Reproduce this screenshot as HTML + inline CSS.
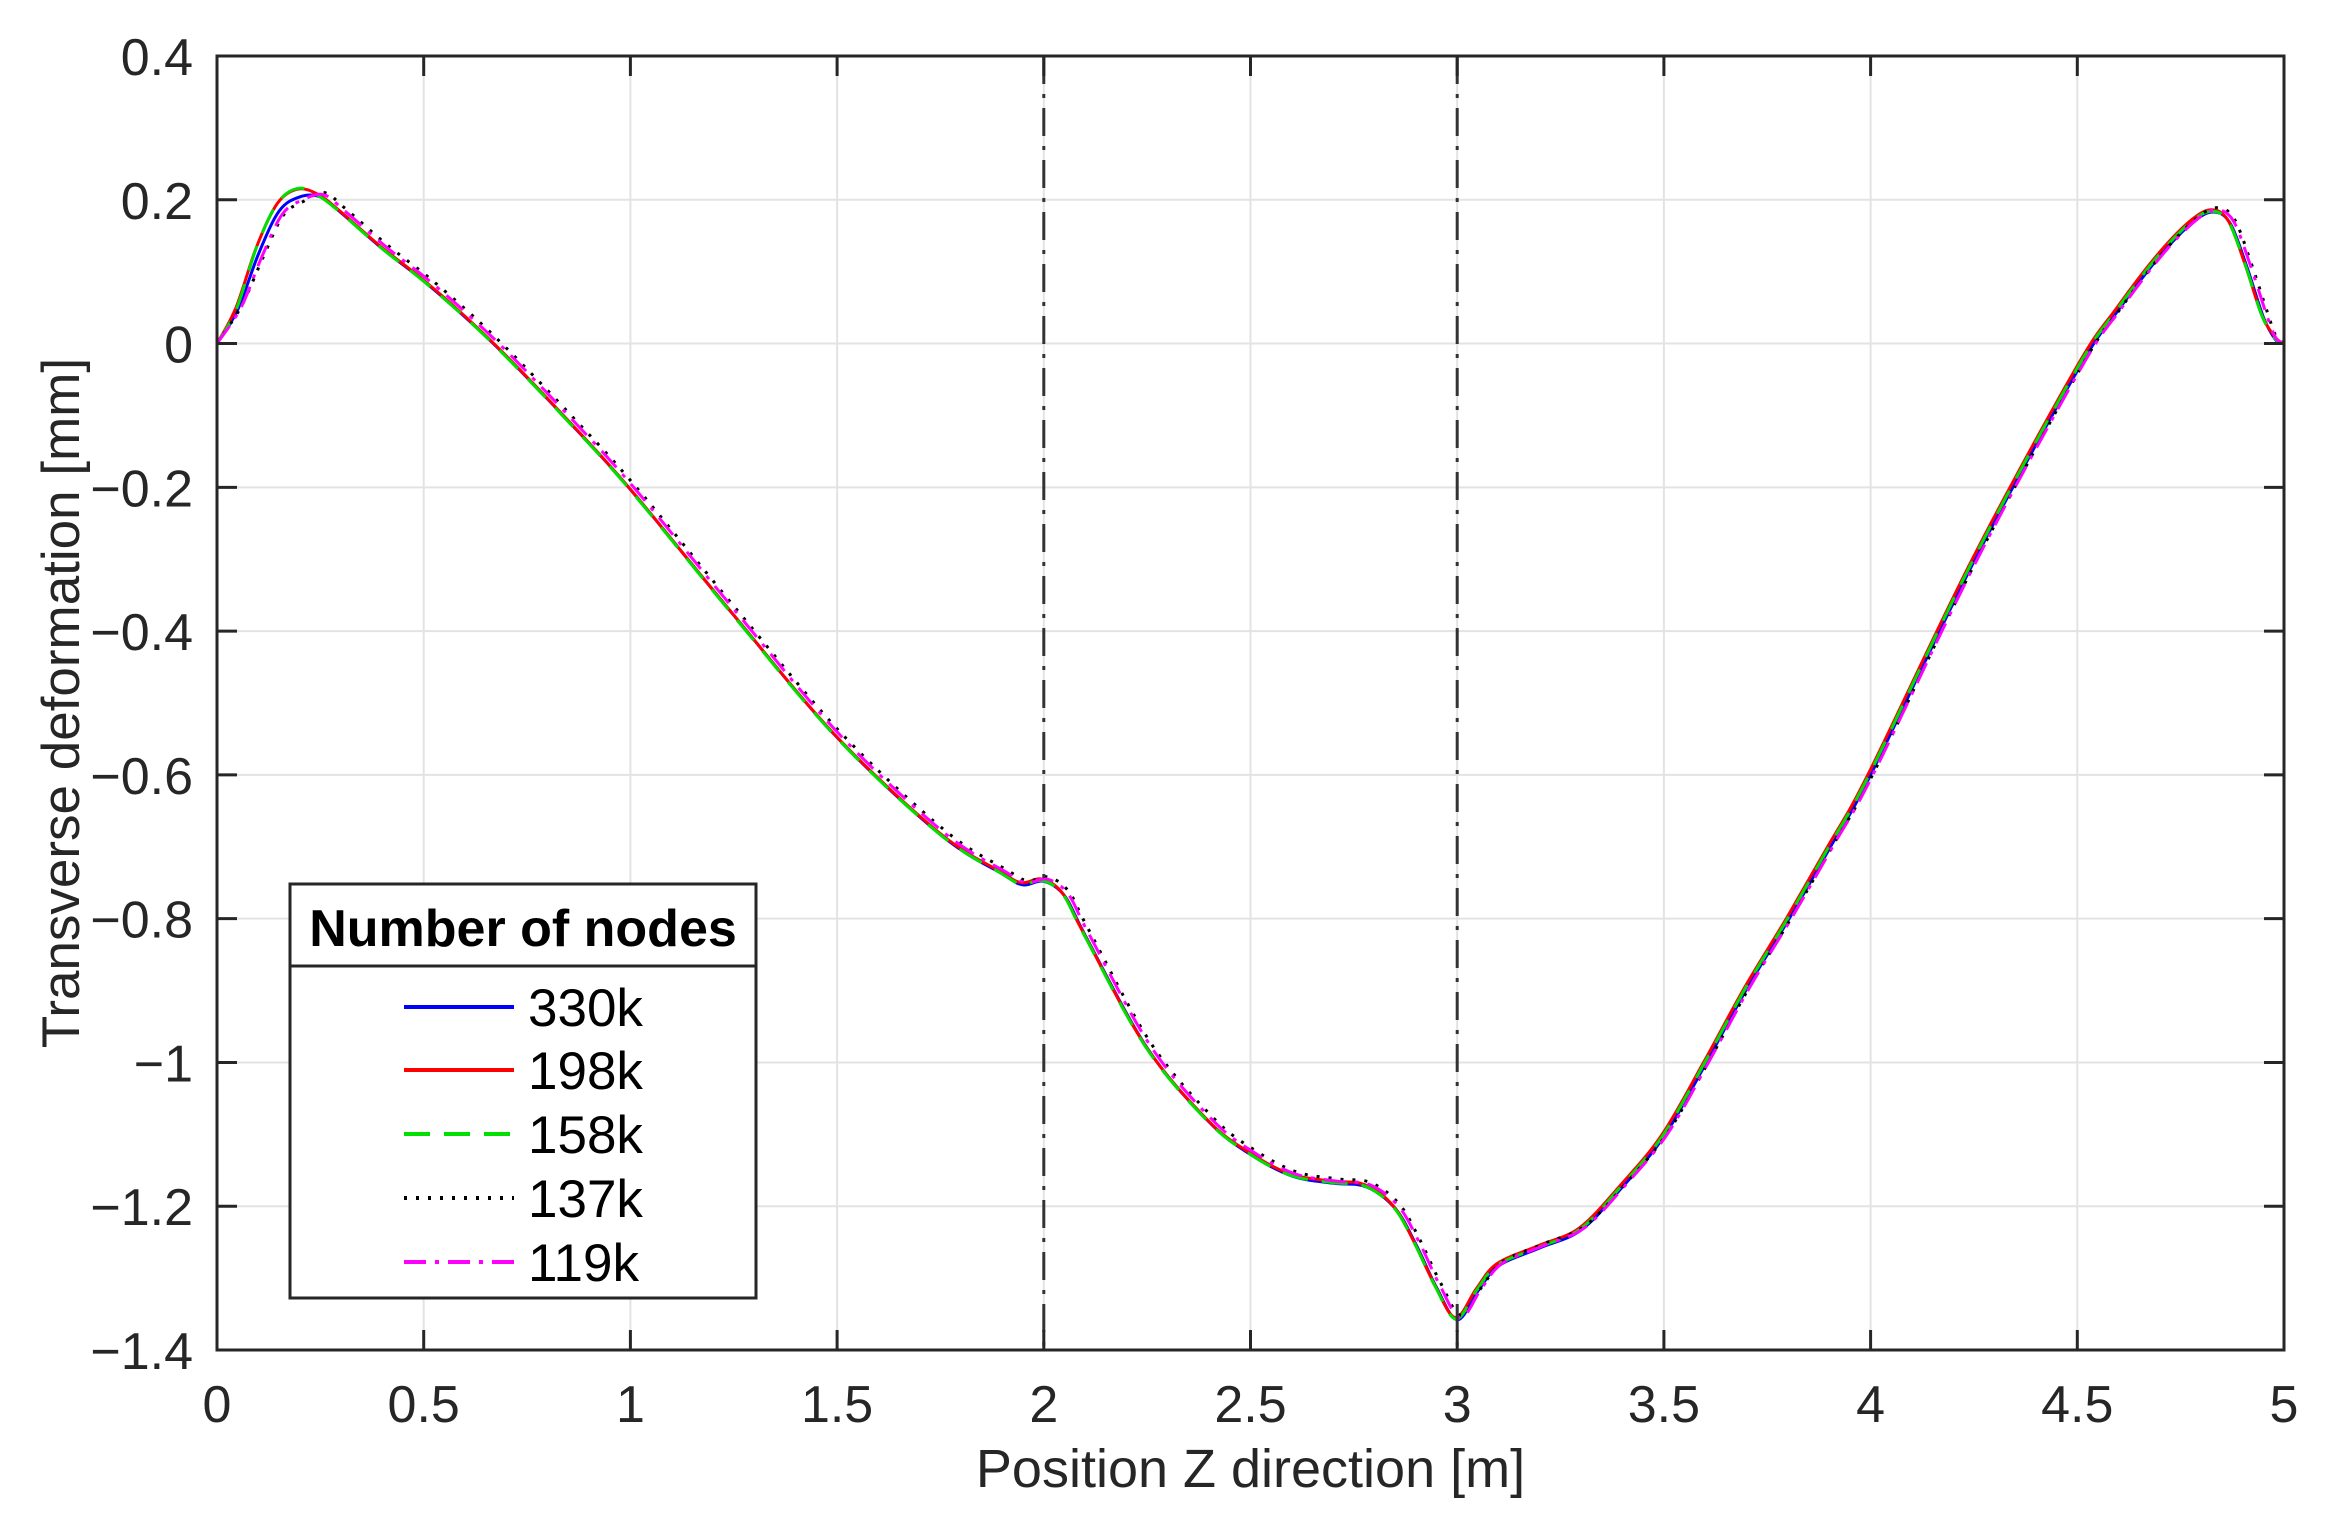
<!DOCTYPE html>
<html><head><meta charset="utf-8"><style>
html,body{margin:0;padding:0;background:#fff;}
svg{display:block;}
text{font-family:"Liberation Sans",Arial,sans-serif;fill:#262626;}
</style></head><body>
<svg id="s" width="2334" height="1518" viewBox="0 0 2334 1518" xmlns="http://www.w3.org/2000/svg">
<rect x="0" y="0" width="2334" height="1518" fill="#fff"/>
<g id="grid" stroke="#e3e3e3" stroke-width="2"></g>
<g id="series" fill="none" stroke-width="3"></g>
<g id="axes"></g>
</svg>
<script>
const L=217,R=2284,T=56,B=1350;
const X=v=>L+(R-L)*v/5, Y=v=>T+(0.4-v)*(B-T)/1.8;
const ns="http://www.w3.org/2000/svg";
function el(p,tag,a,txt){const e=document.createElementNS(ns,tag);for(const k in a)e.setAttribute(k,a[k]);if(txt!=null)e.textContent=txt;p.appendChild(e);return e;}
const s=document.getElementById('s'),g=document.getElementById('grid'),ax=document.getElementById('axes'),se=document.getElementById('series');
for(let i=1;i<10;i++){const x=X(i*0.5);el(g,'line',{x1:x,y1:T,x2:x,y2:B});}
for(let i=1;i<9;i++){const y=Y(0.4-i*0.2);el(g,'line',{x1:L,y1:y,x2:R,y2:y});}
[2,3].forEach(v=>el(ax,'line',{x1:X(v),y1:T,x2:X(v),y2:B,stroke:'#333','stroke-width':3,'stroke-dasharray':'28 10 4 10'}));
const base=[[0,0],[0.05,0.05],[0.1,0.135],[0.15,0.195],[0.2,0.215],[0.25,0.207],[0.3,0.185],[0.4,0.135],[0.5,0.09],[0.6,0.04],[0.7,-0.015],[0.85,-0.105],[1.0,-0.2],[1.25,-0.375],[1.5,-0.545],[1.75,-0.68],[1.9,-0.735],[1.95,-0.75],[2.0,-0.745],[2.05,-0.765],[2.1,-0.82],[2.25,-0.977],[2.4,-1.08],[2.5,-1.125],[2.6,-1.155],[2.7,-1.165],[2.78,-1.17],[2.85,-1.2],[2.9,-1.25],[2.95,-1.31],[3.0,-1.355],[3.05,-1.315],[3.1,-1.28],[3.2,-1.255],[3.3,-1.23],[3.4,-1.17],[3.5,-1.1],[3.6,-1.0],[3.7,-0.895],[3.8,-0.8],[3.9,-0.7],[4.0,-0.597],[4.25,-0.3],[4.5,-0.035],[4.6,0.05],[4.7,0.125],[4.78,0.172],[4.83,0.186],[4.87,0.17],[4.91,0.11],[4.95,0.04],[4.98,0.008],[5,0]];
function path(pts){let d='M'+X(pts[0][0]).toFixed(1)+','+Y(pts[0][1]).toFixed(1);
for(let i=0;i<pts.length-1;i++){const p0=pts[Math.max(0,i-1)],p1=pts[i],p2=pts[i+1],p3=pts[Math.min(pts.length-1,i+2)];
const a=[X(p0[0]),Y(p0[1])],b=[X(p1[0]),Y(p1[1])],c=[X(p2[0]),Y(p2[1])],e=[X(p3[0]),Y(p3[1])];
const c1=[b[0]+(c[0]-a[0])/6,b[1]+(c[1]-a[1])/6],c2=[c[0]-(e[0]-b[0])/6,c[1]-(e[1]-b[1])/6];
d+=' C'+c1.map(v=>v.toFixed(1))+' '+c2.map(v=>v.toFixed(1))+' '+c.map(v=>v.toFixed(1));}
return d;}
function variant(dx,dy,peak){return base.map(([x,y])=>{let yy=y+dy*(x>0&&x<5?1:0);if(x>0.05&&x<0.25)yy+=peak;return [Math.min(5,Math.max(0,x+(x>0&&x<4.98?dx:0))),yy];});}
const S=[
 {c:'#0000ff',d:'',v:variant(0,-0.003,-0.008)},
 {c:'#ff0000',d:'',v:variant(-0.004,0,0)},
 {c:'#00e000',d:'26 14',v:variant(-0.003,-0.002,0.003)},
 {c:'#000000',d:'3 9',v:variant(0.01,0.003,-0.02)},
 {c:'#ff00ff',d:'22 9 4 9',v:variant(0.008,0,-0.015)}];
S.forEach(o=>el(se,'path',{d:path(o.v),stroke:o.c,'stroke-dasharray':o.d||'none'}));
el(ax,'rect',{x:L,y:T,width:R-L,height:B-T,fill:'none',stroke:'#262626','stroke-width':3});
for(let i=0;i<=10;i++){const x=X(i*0.5);el(ax,'line',{x1:x,y1:B,x2:x,y2:B-20,stroke:'#262626','stroke-width':3});el(ax,'line',{x1:x,y1:T,x2:x,y2:T+20,stroke:'#262626','stroke-width':3});
 el(ax,'text',{x:x,y:B+72,'text-anchor':'middle','font-size':52},(i*0.5).toString());}
for(let i=0;i<=9;i++){const v=0.4-i*0.2,y=Y(v);el(ax,'line',{x1:L,y1:y,x2:L+20,y2:y,stroke:'#262626','stroke-width':3});el(ax,'line',{x1:R,y1:y,x2:R-20,y2:y,stroke:'#262626','stroke-width':3});
 let t=Math.abs(v)<1e-9?'0':(v<0?'\u2212':'')+(+Math.abs(v).toFixed(1)).toString();
 el(ax,'text',{x:L-24,y:y+19,'text-anchor':'end','font-size':52},t);}
el(ax,'text',{x:(L+R)/2,y:1487,'text-anchor':'middle','font-size':54},'Position Z direction [m]');
el(ax,'text',{x:0,y:0,'text-anchor':'middle','font-size':53,transform:'translate(79,703) rotate(-90)'},'Transverse deformation [mm]');
const lg=el(ax,'g',{});
el(lg,'rect',{x:290,y:884,width:466,height:414,fill:'#fff',stroke:'#262626','stroke-width':3});
el(lg,'line',{x1:290,y1:966,x2:756,y2:966,stroke:'#262626','stroke-width':3});
el(lg,'text',{x:523,y:946,'text-anchor':'middle','font-size':52,'font-weight':'bold',style:'fill:#000'},'Number of nodes');
const labs=['330k','198k','158k','137k','119k'],ys=[1007,1070,1134,1198,1262];
S.forEach((o,i)=>{el(lg,'line',{x1:404,y1:ys[i],x2:514,y2:ys[i],stroke:o.c,'stroke-width':4,'stroke-dasharray':o.d||'none'});
 el(lg,'text',{x:528,y:ys[i]+19,'font-size':53,style:'fill:#000'},labs[i]);});
</script>
</body></html>
